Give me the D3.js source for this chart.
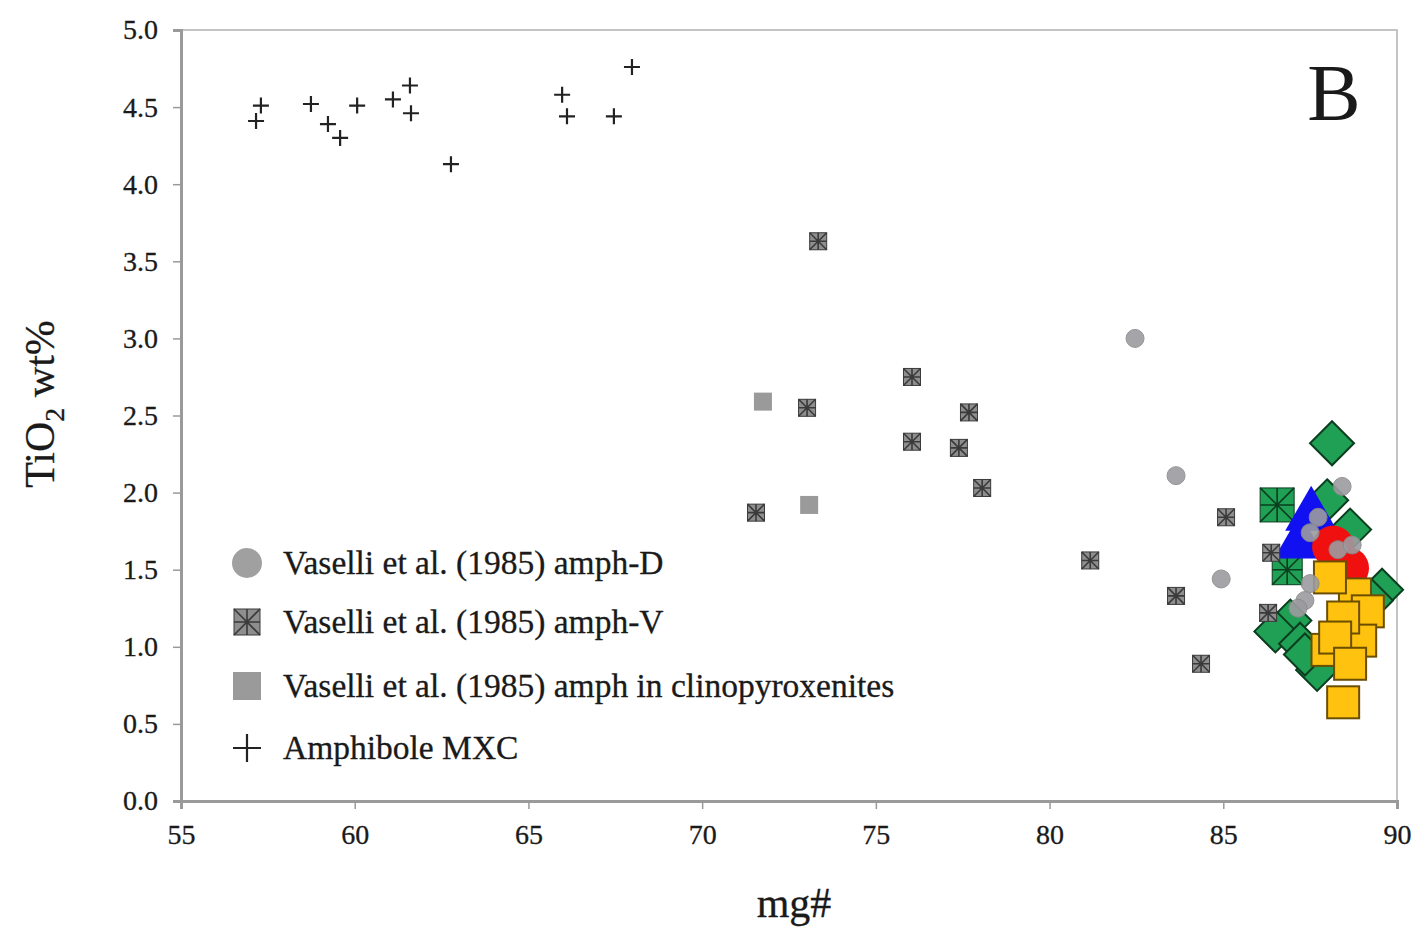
<!DOCTYPE html>
<html>
<head>
<meta charset="utf-8">
<script src="https://cdnjs.cloudflare.com/ajax/libs/d3/7.8.5/d3.min.js"></script>
<style>
  body { margin: 0; background: #fff; }
  text { font-family: "Liberation Serif", "Times New Roman", serif; fill: #1a1a1a; }
</style>
</head>
<body>
<svg id="chart"></svg>
<script>
const width = 1415
const height = 931
const margin = { left: 181, right: 18, top: 30, bottom: 130 }

// data: [mg#, TiO2]
const amphD = [[82.46, 3.00], [83.64, 2.11], [84.94, 1.44], [88.42, 2.04], [87.73, 1.84], [87.50, 1.74],
  [88.30, 1.63], [88.71, 1.66], [87.50, 1.41], [87.35, 1.30], [87.15, 1.25]]
const amphV = [[73.34, 3.63], [71.55, 1.87], [73.02, 2.55], [76.04, 2.75], [76.04, 2.33], [77.68, 2.52],
  [77.39, 2.29], [78.06, 2.03], [81.17, 1.56], [83.64, 1.33], [84.36, 0.89], [85.08, 1.84],
  [86.38, 1.61], [86.29, 1.22]]
const amphCpx = [[71.75, 2.59], [73.08, 1.92]]
const amphMXC = [[57.16, 4.41], [57.30, 4.51], [58.74, 4.52], [59.23, 4.39], [59.58, 4.30], [60.07, 4.51],
  [61.10, 4.55], [61.59, 4.64], [61.62, 4.46], [62.77, 4.13], [65.97, 4.58], [66.11, 4.44],
  [67.46, 4.44], [67.98, 4.76]]
const greenDiamonds = [[88.13, 2.32], [87.99, 1.95], [88.65, 1.76], [89.57, 1.37], [89.28, 1.30],
  [86.93, 1.17], [86.50, 1.10], [87.21, 1.02], [87.70, 0.85], [87.35, 0.95]]
const greenCross = [[86.55, 1.92], [86.84, 1.50]]
const blueTriangles = [[87.53, 1.85], [87.21, 1.67]]
const redCircles = [[88.16, 1.65], [88.59, 1.51]]
const orangeSquares = [[88.79, 1.34], [89.16, 1.23], [88.94, 1.04], [88.07, 1.45], [88.45, 1.19],
  [88.00, 0.98], [88.22, 1.06], [88.65, 0.89], [88.45, 0.64]]

const xTicks = [55, 60, 65, 70, 75, 80, 85, 90]
const yTicks = [0, 0.5, 1, 1.5, 2, 2.5, 3, 3.5, 4, 4.5, 5]
const legendLabels = ['Vaselli et al. (1985) amph-D', 'Vaselli et al. (1985) amph-V',
  'Vaselli et al. (1985) amph in clinopyroxenites', 'Amphibole MXC']

const svg = d3.select('svg#chart').attr('width', width).attr('height', height)

const x = d3.scaleLinear().domain([55, 90]).range([margin.left, width - margin.right])
const y = d3.scaleLinear().domain([0, 5]).range([height - margin.bottom, margin.top])

// frame (top and right)
svg.append('rect')
  .attr('x', x(55)).attr('y', y(5))
  .attr('width', x(90) - x(55)).attr('height', y(0) - y(5))
  .attr('fill', 'none').attr('stroke', '#c4c4c4').attr('stroke-width', 2)

const xAxis = svg.append('g')
  .attr('transform', 'translate(0,' + y(0) + ')')
  .call(d3.axisBottom(x).tickValues(xTicks).tickSize(8).tickPadding(15).tickFormat(d3.format('d')))
const yAxis = svg.append('g')
  .attr('transform', 'translate(' + x(55) + ',0)')
  .call(d3.axisLeft(y).tickValues(yTicks).tickSize(8).tickPadding(15).tickFormat(d3.format('.1f')))

for (const ax of [xAxis, yAxis]) {
  ax.select('.domain').attr('stroke', '#9a9a9a').attr('stroke-width', 3)
  ax.selectAll('.tick line').attr('stroke', '#9a9a9a').attr('stroke-width', 1.5)
  ax.selectAll('.tick text').attr('font-size', 28).attr('fill', '#1a1a1a')
    .attr('font-family', '"Liberation Serif", serif')
    .attr('stroke', '#1a1a1a').attr('stroke-width', 0.3)
}

// marker helpers
function diamond(g, cx, cy, r, fill, stroke) {
  g.append('path')
    .attr('d', `M${cx},${cy - r}L${cx + r},${cy}L${cx},${cy + r}L${cx - r},${cy}Z`)
    .attr('fill', fill).attr('stroke', stroke).attr('stroke-width', 2)
}
function crossSquare(g, cx, cy, s, fill, line) {
  const h = s / 2
  g.append('rect').attr('x', cx - h).attr('y', cy - h).attr('width', s).attr('height', s)
    .attr('fill', fill).attr('stroke', line).attr('stroke-width', 1)
  g.append('path')
    .attr('d', `M${cx - h},${cy - h}L${cx + h},${cy + h}M${cx + h},${cy - h}L${cx - h},${cy + h}M${cx},${cy - h}L${cx},${cy + h}M${cx - h},${cy}L${cx + h},${cy}`)
    .attr('stroke', line).attr('stroke-width', 1.6).attr('fill', 'none')
}
function triangle(g, cx, cy, s, fill) {
  const hgt = s * Math.sqrt(3) / 2
  g.append('path')
    .attr('d', `M${cx},${cy - hgt * 2 / 3}L${cx + s / 2},${cy + hgt / 3}L${cx - s / 2},${cy + hgt / 3}Z`)
    .attr('fill', fill)
}
function plus(g, cx, cy, s) {
  g.append('path')
    .attr('d', `M${cx - s},${cy}L${cx + s},${cy}M${cx},${cy - s}L${cx},${cy + s}`)
    .attr('stroke', '#222').attr('stroke-width', 2.2)
}

const marks = svg.append('g')

greenDiamonds.forEach((d, i) => diamond(marks, x(d[0]), y(d[1]), i === 0 ? 22 : 21, '#1fa055', '#0b3d1e'))
greenCross.forEach((d, i) => crossSquare(marks, x(d[0]), y(d[1]), i === 0 ? 34 : 30, '#1fa055', '#0b3d1e'))
blueTriangles.forEach(d => triangle(marks, x(d[0]), y(d[1]), 52, '#1010f0'))
redCircles.forEach(d => marks.append('circle').attr('cx', x(d[0])).attr('cy', y(d[1])).attr('r', 21).attr('fill', '#f01010'))
orangeSquares.forEach(d => marks.append('rect')
  .attr('x', x(d[0]) - 16).attr('y', y(d[1]) - 16).attr('width', 32).attr('height', 32)
  .attr('fill', '#ffc20e').attr('stroke', '#6b4e00').attr('stroke-width', 2))

amphCpx.forEach(d => marks.append('rect')
  .attr('x', x(d[0]) - 9).attr('y', y(d[1]) - 9).attr('width', 18).attr('height', 18)
  .attr('fill', '#9a9a9a'))
amphV.forEach(d => crossSquare(marks, x(d[0]), y(d[1]), 17, '#8e8e8e', '#3a3a3a'))
amphD.forEach(d => marks.append('circle').attr('cx', x(d[0])).attr('cy', y(d[1])).attr('r', 9)
  .attr('fill', '#9c9ca0').attr('stroke', '#8a8a8a').attr('stroke-width', 1).attr('opacity', 0.9))
amphMXC.forEach(d => plus(marks, x(d[0]), y(d[1]), 8))

// legend
const legend = svg.append('g')
const rowY = [563, 622, 686, 748]
legend.append('circle').attr('cx', 247).attr('cy', rowY[0]).attr('r', 15).attr('fill', '#a0a0a0')
crossSquare(legend, 247, rowY[1], 26, '#8e8e8e', '#3a3a3a')
legend.append('rect').attr('x', 233).attr('y', rowY[2] - 14).attr('width', 28).attr('height', 28).attr('fill', '#9a9a9a')
plus(legend, 247, rowY[3], 14)
legendLabels.forEach((t, i) => legend.append('text')
  .attr('x', 283).attr('y', rowY[i] + 11).attr('font-size', 33.5)
  .attr('stroke', '#1a1a1a').attr('stroke-width', 0.3).text(t))

// axis titles
const yl = svg.append('text')
  .attr('transform', 'translate(54,404) rotate(-90)')
  .attr('text-anchor', 'middle').attr('font-size', 42)
  .attr('stroke', '#1a1a1a').attr('stroke-width', 0.3)
yl.append('tspan').text('TiO')
yl.append('tspan').attr('font-size', 28).attr('dy', 10).text('2')
yl.append('tspan').attr('dy', -10).text(' wt%')

svg.append('text').attr('x', 794).attr('y', 917).attr('text-anchor', 'middle')
  .attr('font-size', 42).attr('stroke', '#1a1a1a').attr('stroke-width', 0.3).text('mg#')

svg.append('text').attr('x', 1334).attr('y', 120).attr('text-anchor', 'middle')
  .attr('font-size', 80).text('B')
</script>
</body>
</html>
